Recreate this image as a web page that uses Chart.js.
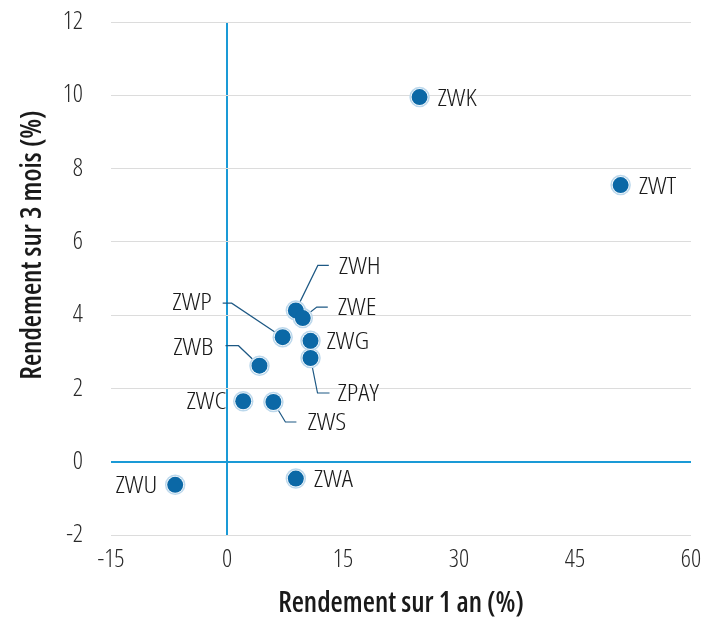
<!DOCTYPE html>
<html><head><meta charset="utf-8">
<script src="https://cdn.jsdelivr.net/npm/chart.js@4"></script>
<style>html,body{margin:0;padding:0;background:#fff}#wrap{width:721px;height:618px}</style>
</head><body><div id="wrap"><canvas id="c"></canvas></div>
<script>
const names = ['ZWK','ZWT','ZWU','ZWA','ZWC','ZWS','ZWB','ZWP','ZWH','ZWE','ZWG','ZPAY'];
const oneYear = [24.9, 50.9, -6.7, 8.9, 2.1, 6.0, 4.2, 7.2, 8.9, 9.8, 10.8, 10.8];
const threeMonth = [9.95, 7.55, -0.63, -0.46, 1.65, 1.63, 2.62, 3.4, 4.13, 3.92, 3.3, 2.83];
const xTicks = [-15, 0, 15, 30, 45, 60];
const yTicks = [-2, 0, 2, 4, 6, 8, 10, 12];
const xTitle = 'Rendement sur 1 an (%)';
const yTitle = 'Rendement sur 3 mois (%)';

const FONT = "'Open Sans', sans-serif";
const BLUE = '#1a9ad6';
const DOT = '#0b68a6';
const RING = '#bcd8ec';
const LEADER = '#1d5884';

// label layout (pixel offsets relative to the point), presentation only
const labelLayout = {
  ZWK:{tx:18,ty:2,align:'left'},
  ZWT:{tx:18,ty:2,align:'left'},
  ZWU:{tx:-18,ty:1,align:'right'},
  ZWA:{tx:18,ty:2,align:'left'},
  ZWC:{tx:-17,ty:1,align:'right'},
  ZWG:{tx:16,ty:1,align:'left'},
  ZWS:{path:[[12,20],[23,20]],tx:34,ty:21,align:'left'},
  ZWB:{path:[[-21,-20],[-34,-20]],tx:-46,ty:-18,align:'right'},
  ZWP:{path:[[-51,-34],[-60,-34]],tx:-71,ty:-34,align:'right'},
  ZWH:{path:[[22,-45],[33,-45]],tx:43,ty:-43,align:'left'},
  ZWE:{path:[[14,-11],[25,-11]],tx:35,ty:-10,align:'left'},
  ZPAY:{path:[[7,35],[19,35]],tx:27,ty:36,align:'left'}
};

const pts = oneYear.map((x,i)=>({x:x,y:threeMonth[i]}));

const labelPlugin = {
  id:'labels',
  beforeDatasetsDraw(chart){
    const ctx = chart.ctx; const meta = chart.getDatasetMeta(0);
    ctx.save(); ctx.strokeStyle = LEADER; ctx.lineWidth = 1.2;
    names.forEach((n,i)=>{
      const L = labelLayout[n]; if(!L.path) return;
      const p = meta.data[i];
      ctx.beginPath(); ctx.moveTo(p.x,p.y);
      L.path.forEach(([dx,dy])=>ctx.lineTo(p.x+dx,p.y+dy));
      ctx.stroke();
    });
    ctx.restore();
  },
  afterDatasetsDraw(chart){
    const ctx = chart.ctx; const meta = chart.getDatasetMeta(0);
    ctx.save(); ctx.fillStyle = '#1a1a1a'; ctx.font = 'condensed 300 24px ' + FONT; ctx.textBaseline = 'middle';
    names.forEach((n,i)=>{
      const L = labelLayout[n]; const p = meta.data[i];
      ctx.save();
      ctx.translate(p.x+L.tx, p.y+L.ty); ctx.scale(1.15, 1);
      ctx.textAlign = L.align;
      ctx.fillText(n, 0, 0);
      ctx.restore();
    });
    // y axis title
    ctx.font = 'condensed 600 28px ' + FONT;
    ctx.fillStyle = '#1a1a1a';
    ctx.translate(33, 245); ctx.rotate(-Math.PI/2);
    ctx.textAlign = 'center';
    ctx.fillText(yTitle, 0, 0);
    ctx.restore();
  }
};

new Chart(document.getElementById('c'), {
  type:'scatter',
  data:{datasets:[
    {data:pts, pointRadius:8, pointHoverRadius:8, backgroundColor:DOT, borderColor:DOT, borderWidth:0},
    {data:pts, pointRadius:9.5, pointHoverRadius:9.5, backgroundColor:'#fff', borderColor:RING, borderWidth:1.5}
  ]},
  options:{
    responsive:true, maintainAspectRatio:false, animation:false,
    layout:{padding:{top:22,right:30,bottom:0,left:0}},
    plugins:{legend:{display:false},tooltip:{enabled:false}},
    scales:{
      x:{type:'linear', min:xTicks[0], max:xTicks[xTicks.length-1],
        afterBuildTicks(s){s.ticks = xTicks.map(v=>({value:v}));},
        afterFit(s){s.height = 83; s.paddingLeft=0; s.paddingRight=0;},
        border:{display:false},
        grid:{drawTicks:false, color:c=>c.tick && c.tick.value===0 ? BLUE : 'rgba(0,0,0,0)', lineWidth:2},
        ticks:{padding:10, color:'#2a2a2a', font:{family:FONT, size:25, weight:'condensed 300'}},
        title:{display:true, text:xTitle, color:'#1a1a1a', font:{family:FONT, size:28, weight:'condensed 600', lineHeight:1}, padding:{top:0,bottom:0}}
      },
      y:{type:'linear', min:yTicks[0], max:yTicks[yTicks.length-1],
        afterBuildTicks(s){s.ticks = yTicks.map(v=>({value:v}));},
        afterFit(s){s.width = 111; s.paddingTop=0; s.paddingBottom=0;},
        border:{display:false},
        grid:{drawTicks:false, color:c=>c.tick && c.tick.value===0 ? BLUE : '#dcdcdc', lineWidth:c=>c.tick && c.tick.value===0 ? 2 : 1},
        ticks:{padding:28, color:'#2a2a2a', font:{family:FONT, size:25, weight:'condensed 300'}}
      }
    }
  },
  plugins:[labelPlugin]
});
</script>
</body></html>
